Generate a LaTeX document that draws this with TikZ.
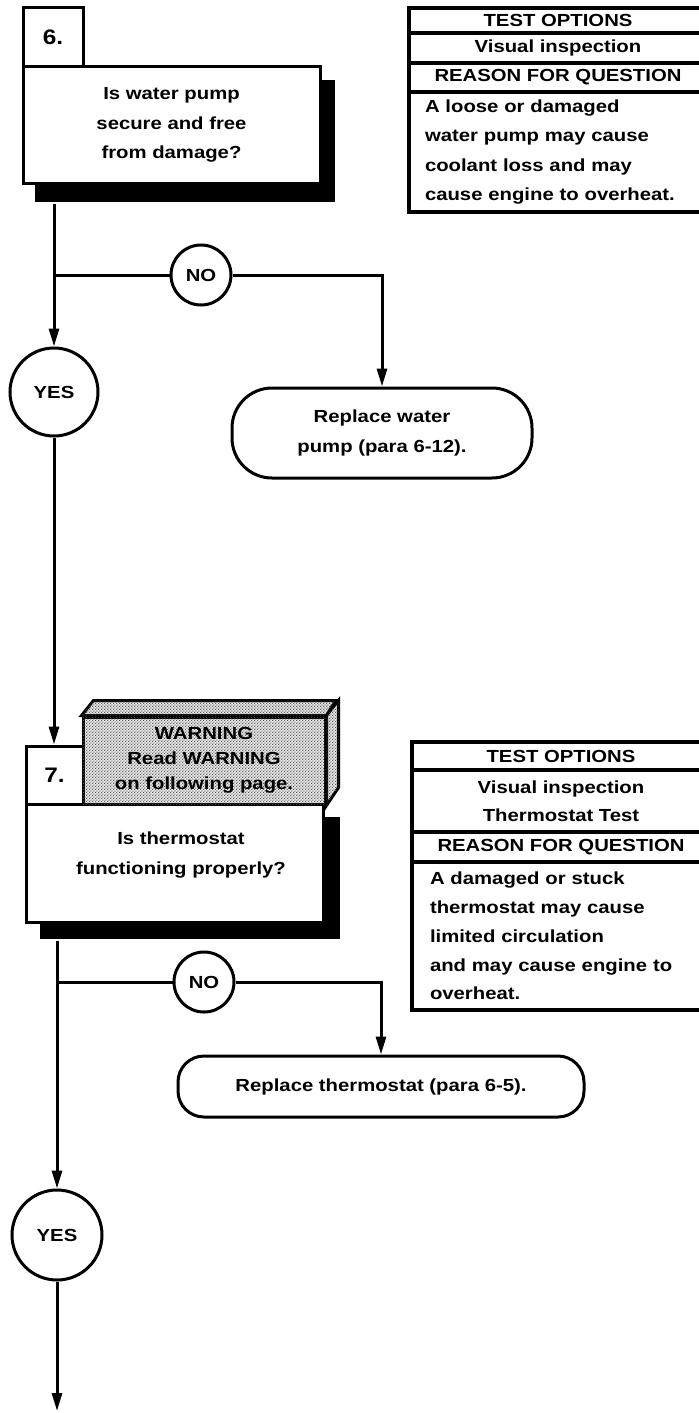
\documentclass[tikz,border=0pt]{standalone}
\usepackage{fontspec}
\newfontfamily\hv{Liberation Sans}[FakeStretch=1.16]
\usetikzlibrary{arrows.meta,patterns.meta}

% fine halftone screen for the warning block
\tikzdeclarepattern{
  name=halftone,
  type=uncolored,
  bounding box={(0pt,0pt) and (1.6pt,1.6pt)},
  tile size={(1.6pt,1.6pt)},
  code={\fill (0.4pt,0.4pt) circle (0.42pt); \fill (1.2pt,1.2pt) circle (0.42pt);}
}

\begin{document}
\begin{tikzpicture}[x=0.5pt,y=-0.5pt,
  line width=1.5pt,
  txt/.style={font=\hv\bfseries\fontsize{8.75}{14.75}\selectfont, align=center},
  numtxt/.style={font=\hv\bfseries\fontsize{10.5}{12}\selectfont},
  box/.style={draw, fill=white, inner sep=0pt},
  shadowbox/.style={fill=black, inner sep=0pt},
  warnfill/.style={fill=black!8, postaction={pattern=halftone, pattern color=black!70}},
  warnbox/.style={draw, warnfill, inner sep=0pt},
  circ/.style={circle, draw, fill=white, inner sep=0pt, txt},
  repbox/.style={draw, fill=white, inner sep=0pt, txt},
  row/.style={draw, fill=white, inner sep=0pt, line width=1.75pt, minimum width=149pt, txt},
  arr/.style={-{Triangle[length=9pt,width=5pt]}},
]
\useasboundingbox (0,0) rectangle (699,1413);

% ---------- step 6 ----------
\node[shadowbox, minimum width=150pt, minimum height=61pt] (s6) at (185,141) {};
\node[box, txt, minimum width=148.5pt, minimum height=58pt] (q6) at (171.5,125)
  {Is water pump\\secure and free\\from damage?};
\node[box, numtxt, minimum width=30pt, minimum height=29.5pt] (n6) at (53,37.5) {6.};

\node[row, minimum height=12.5pt] (t1a) at (558,20.5) {TEST OPTIONS};
\node[row, minimum height=15pt] (t1b) at (558,48) {Visual inspection};
\node[row, minimum height=14.5pt] (t1c) at (558,77.5) {REASON FOR QUESTION};
\node[row, align=left, text width=133pt, inner xsep=8pt, minimum height=60pt] (t1d) at (558,152)
  {A loose or damaged\\water pump may cause\\coolant loss and may\\cause engine to overheat.};

\node[circ, minimum size=30pt] (no1) at (201,275) {NO};
\node[circ, minimum size=44pt] (yes1) at (54,392) {YES};
\node[repbox, rounded corners=20pt, minimum width=150pt, minimum height=45pt] (rep1) at (382,433)
  {Replace water\\pump (para 6-12).};

\draw[arr] (s6.south -| yes1) -- (yes1.north);
\draw (no1.west) -- (no1.west -| yes1);
\draw[arr] (no1.east) -| (rep1.north);

% ---------- step 7 ----------
\node[shadowbox, minimum width=150pt, minimum height=61pt] (s7) at (190,878) {};
\node[box, minimum width=148.5pt, minimum height=59pt] (q7) at (174.5,863) {};
\node[txt] (q7t) at (181,855) {Is thermostat\\functioning properly?};
\node[box, numtxt, minimum width=28.5pt, minimum height=29pt] (n7) at (54.5,775) {7.};

\node[warnbox, minimum width=121pt, minimum height=43.5pt, txt,
      font=\hv\bfseries\fontsize{8.75}{12.5}\selectfont] (warn) at (204,760.5)
  {WARNING\\Read WARNING\\on following page.};
\draw[warnfill] (warn.north west) -- ++(12,-15) -- ++(242,0) -- (warn.north east) -- cycle;
\draw[warnfill] (warn.north east) -- ++(12,-15) -- ++(0,87) -- (warn.south east) -- cycle;

\node[row, minimum height=14pt] (t2a) at (561,756) {TEST OPTIONS};
\node[row, minimum height=31pt, font=\hv\bfseries\fontsize{8.75}{14}\selectfont] (t2b) at (561,801)
  {Visual inspection\\Thermostat Test};
\node[row, minimum height=15pt] (t2c) at (561,847) {REASON FOR QUESTION};
\node[row, align=left, text width=131pt, inner xsep=9pt, minimum height=74pt,
      font=\hv\bfseries\fontsize{8.75}{14.4}\selectfont] (t2d) at (561,936)
  {A damaged or stuck\\thermostat may cause\\limited circulation\\and may cause engine to\\overheat.};

\node[circ, minimum size=30pt] (no2) at (204,982) {NO};
\node[circ, minimum size=45pt] (yes2) at (57,1235) {YES};
\node[repbox, rounded corners=13pt, minimum width=203pt, minimum height=30.5pt] (rep2) at (381,1086.5)
  {Replace thermostat (para 6-5).};
\coordinate (cont) at (57,1411);

\draw[arr] (yes1.south) -- (yes1.south |- n7.north);
\draw[arr] (s7.south -| yes2) -- (yes2.north);
\draw (no2.west) -- (no2.west -| yes2);
\draw[arr] (no2.east) -| (rep2.north);
\draw[arr] (yes2.south) -- (cont);
\end{tikzpicture}
\end{document}
